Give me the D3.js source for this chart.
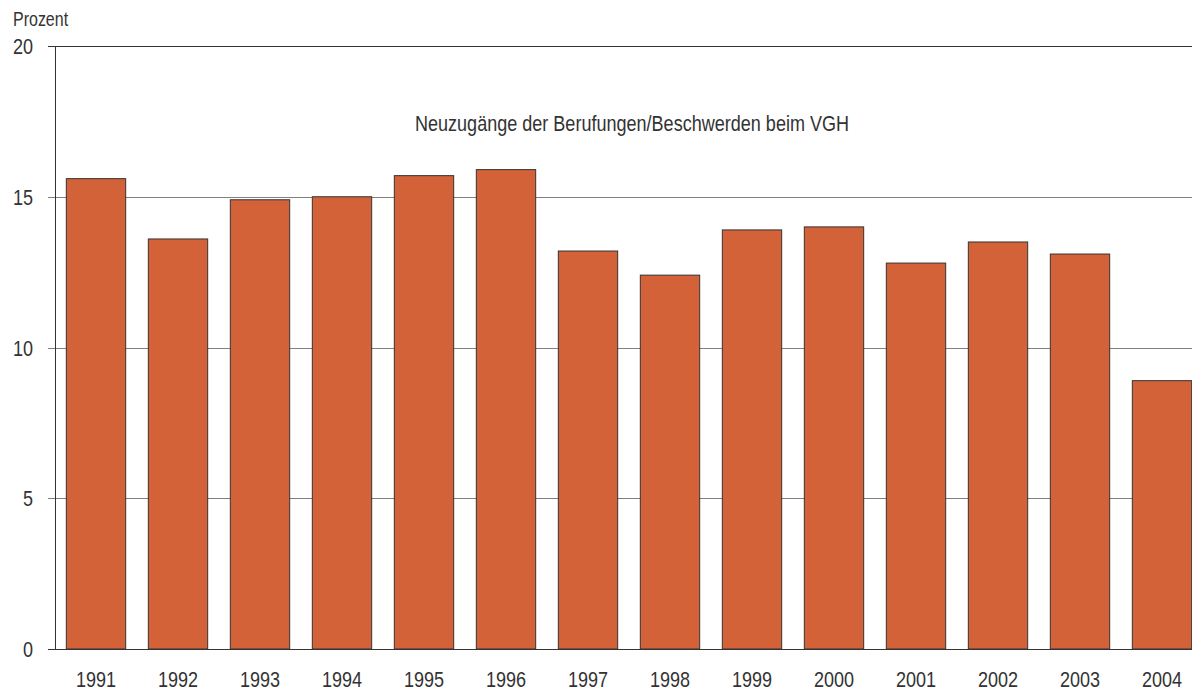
<!DOCTYPE html>
<html>
<head>
<meta charset="utf-8">
<script src="https://cdn.jsdelivr.net/npm/d3@7"></script>
<style>
  body { margin: 0; background: #fff; }
  svg { display: block; font-family: "Liberation Sans", Arial, sans-serif; }
</style>
</head>
<body>
<div id="chart"></div>
<script>
var years = ['1991','1992','1993','1994','1995','1996','1997','1998','1999','2000','2001','2002','2003','2004'];
var shares = [15.6, 13.6, 14.9, 15.0, 15.7, 15.9, 13.2, 12.4, 13.9, 14.0, 12.8, 13.5, 13.1, 8.9];
var yTicks = [0, 5, 10, 15, 20];
var title = 'Neuzugänge der Berufungen/Beschwerden beim VGH';
var unitLabel = 'Prozent';

var drawChart = function (domSelector) {
  var width = 1192, height = 693;
  var left = 55, top = 46, bottom = 649;
  var squeeze = 0.82; // condensed look

  var svg = d3.select(domSelector)
    .append('svg')
    .attr('width', width)
    .attr('height', height);

  var x = d3.scaleBand()
    .domain(years)
    .range([left, left + years.length * 82])
    .paddingInner(0.276)
    .paddingOuter(0.138);

  var y = d3.scaleLinear()
    .domain([0, 20])
    .range([bottom, top]);

  var label = function (sel, tx, ty, size) {
    return sel
      .attr('transform', function (d, i) {
        return 'translate(' + tx(d, i) + ',' + ty(d, i) + ') scale(' + squeeze + ',1)';
      })
      .attr('font-size', size || 22)
      .attr('fill', '#333');
  };

  // gridlines
  svg.append('g')
    .selectAll('line')
    .data(yTicks)
    .enter()
    .append('line')
    .attr('x1', left - 7)
    .attr('x2', width)
    .attr('y1', function (d) { return Math.round(y(d)) + 0.5; })
    .attr('y2', function (d) { return Math.round(y(d)) + 0.5; })
    .attr('stroke', function (d) { return d === 0 || d === 20 ? '#333' : '#808080'; })
    .attr('stroke-width', 1);

  // bars
  svg.append('g')
    .selectAll('rect')
    .data(years)
    .enter()
    .append('rect')
    .attr('x', function (d) { return x(d); })
    .attr('y', function (d, i) { return y(shares[i]); })
    .attr('width', x.bandwidth())
    .attr('height', function (d, i) { return y(0) - y(shares[i]); })
    .attr('fill', '#d46239')
    .attr('stroke', '#333')
    .attr('stroke-width', 1);

  // y axis line
  svg.append('line')
    .attr('x1', left + 0.5).attr('x2', left + 0.5)
    .attr('y1', y(20)).attr('y2', y(0))
    .attr('stroke', '#333');

  // y labels
  label(svg.append('g')
    .selectAll('text')
    .data(yTicks)
    .enter()
    .append('text')
    .attr('text-anchor', 'end')
    .text(function (d) { return d; }),
    function () { return 33; },
    function (d) { return y(d) + 8; });

  // x labels
  label(svg.append('g')
    .selectAll('text')
    .data(years)
    .enter()
    .append('text')
    .attr('text-anchor', 'middle')
    .text(function (d) { return d; }),
    function (d) { return x(d) + x.bandwidth() / 2; },
    function () { return 687; });

  label(svg.append('text').datum(unitLabel).text(unitLabel),
    function () { return 13; }, function () { return 26; }, 19.5);

  label(svg.append('text').datum(title)
    .attr('text-anchor', 'middle')
    .text(title),
    function () { return 632; }, function () { return 131; });
};

drawChart('#chart');
</script>
</body>
</html>
